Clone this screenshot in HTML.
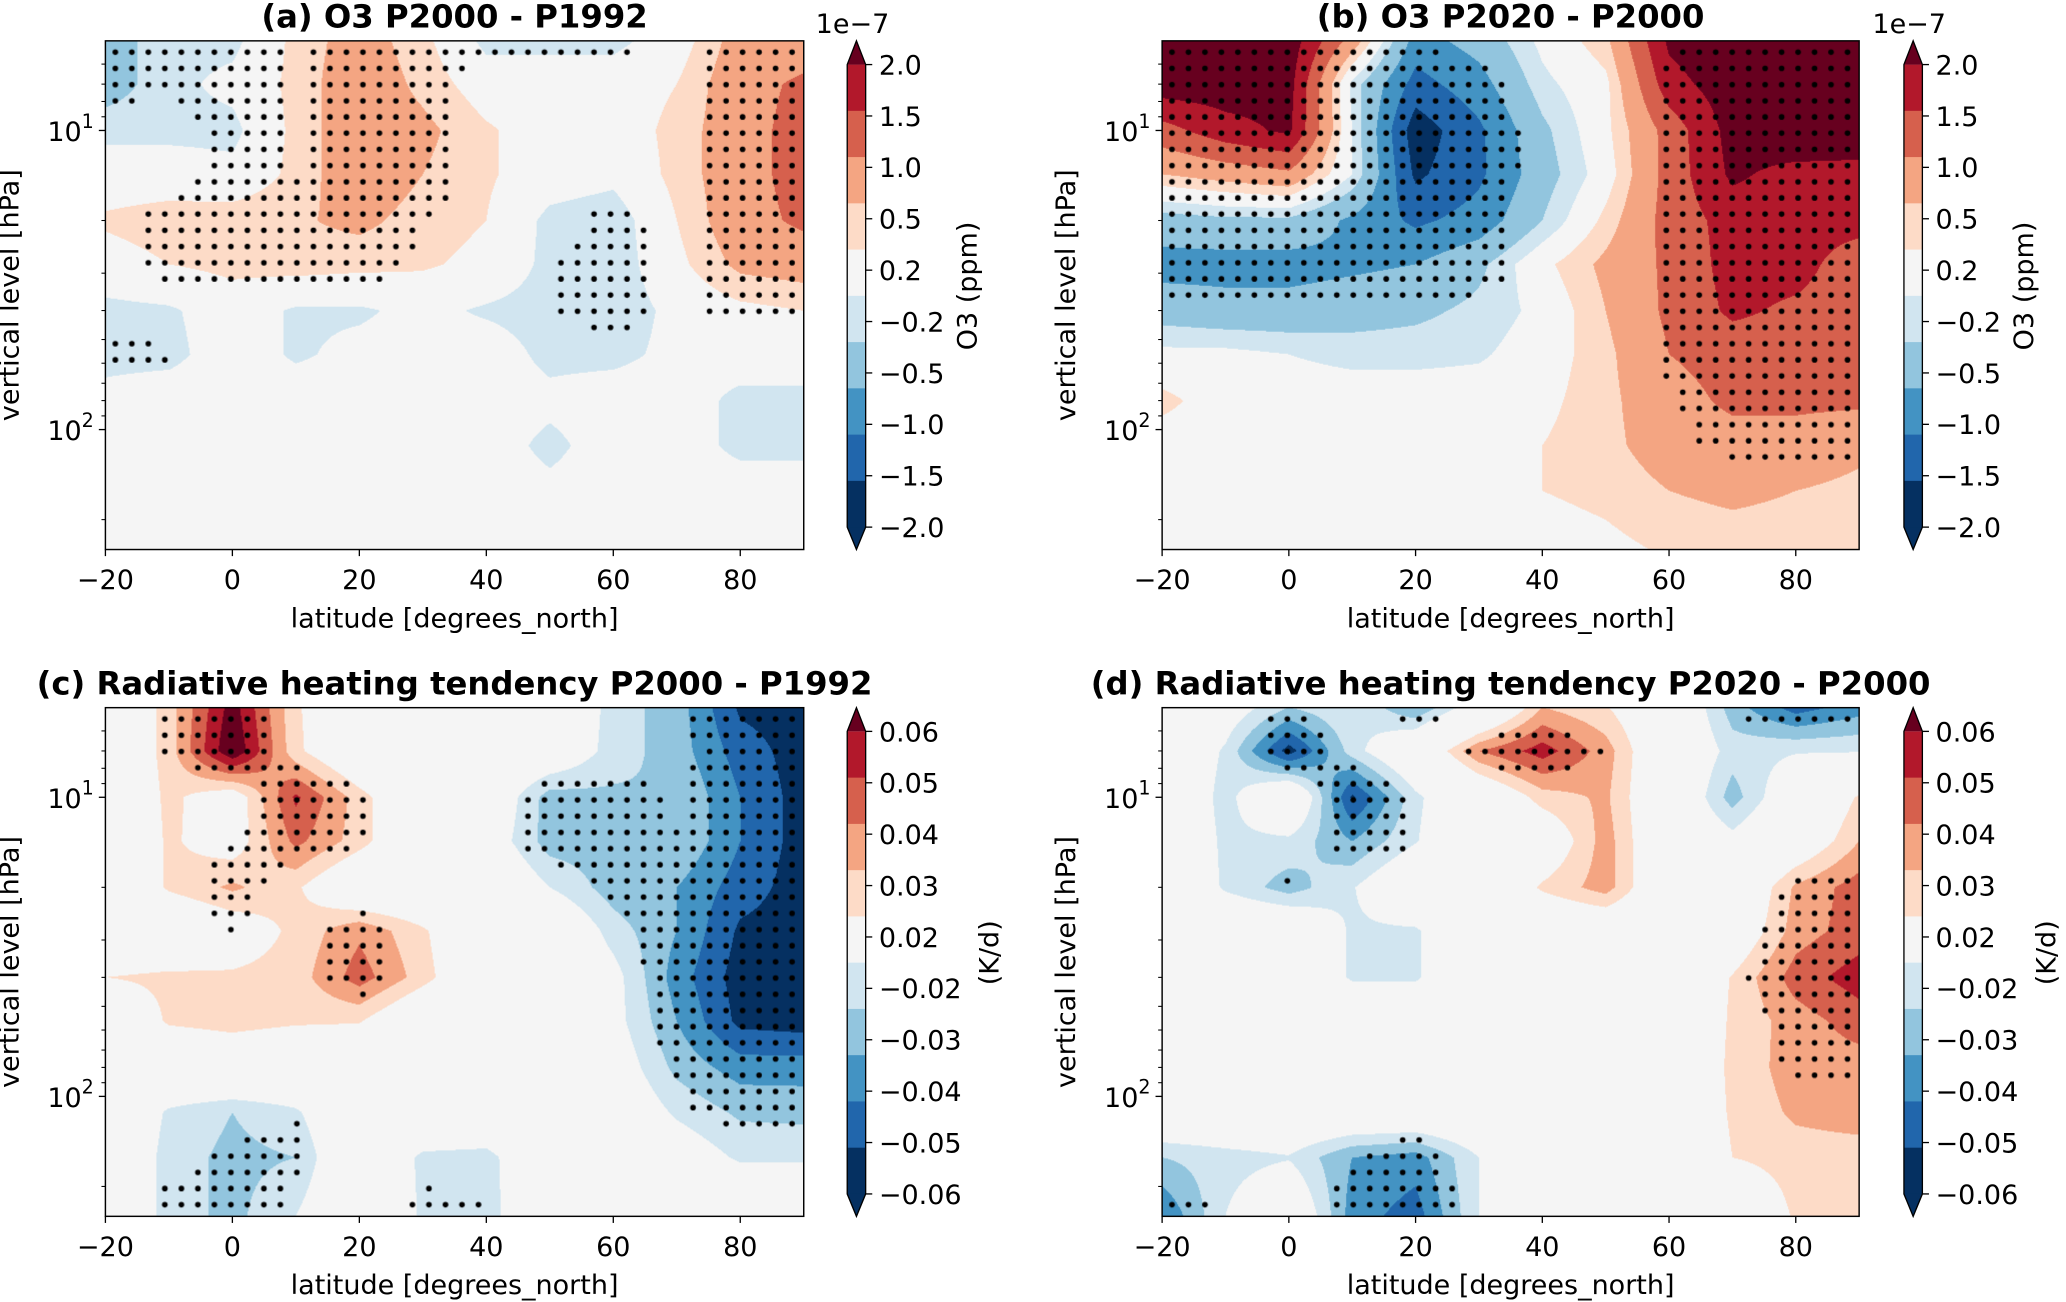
<!DOCTYPE html>
<html><head><meta charset="utf-8">
<style>
html,body{margin:0;padding:0;background:#fff;}
body{width:2066px;height:1302px;overflow:hidden;position:relative;font-family:"Liberation Sans","DejaVu Sans",sans-serif;}
#stage{position:absolute;left:0;top:0;width:1568px;height:988px;transform:scale(1.31760,1.31781);transform-origin:0 0;}
canvas{position:absolute;}
svg{position:absolute;left:0;top:0;}
</style></head>
<body>
<div id="stage">
<canvas id="cA" style="left:80px;top:31px;width:530px;height:386px" width="698" height="509"></canvas>
<canvas id="cB" style="left:882px;top:31px;width:529px;height:386px" width="697" height="509"></canvas>
<canvas id="cC" style="left:80px;top:537px;width:530px;height:386px" width="698" height="509"></canvas>
<canvas id="cD" style="left:882px;top:537px;width:529px;height:386px" width="697" height="509"></canvas>
<svg id="ov" width="1568" height="988" viewBox="0 0 1568 988"></svg>
</div>
<script>
// ---------------- data ----------------
const latitudes = [-20,-10,0,10,20,30,40,50,60,70,80,90];
const pressureLevels = [5,7,10,14,20,28,40,56,80,113,160,250];
const levelsO3 = [-2,-1.5,-1,-0.5,-0.2,0.2,0.5,1,1.5,2];
const levelsHR = [-0.06,-0.05,-0.04,-0.03,-0.02,0.02,0.03,0.04,0.05,0.06];
const cbarLabelsO3 = ["2.0","1.5","1.0","0.5","0.2","\u22120.2","\u22120.5","\u22121.0","\u22121.5","\u22122.0"];
const cbarLabelsHR = ["0.06","0.05","0.04","0.03","0.02","\u22120.02","\u22120.03","\u22120.04","\u22120.05","\u22120.06"];
const xTickLabels = [-20,0,20,40,60,80];

// panel (a) O3 P2000-P1992 (1e-7 ppm)
const fieldA = [
[-0.7,-0.3,-0.3,0.3,0.7,0.3,-0.3,-0.3,-0.3,0,0.7,0.7],
[-0.7,-0.3,-0.1,0.3,0.8,0.4,0,0,0,0.2,0.8,1.1],
[-0.3,-0.3,-0.3,0.3,0.8,0.6,0.25,0,0,0.3,0.8,1.2],
[0,0,-0.1,0.3,0.8,0.5,0.25,0,-0.1,0.3,0.8,1.2],
[0.25,0.35,0.4,0.45,0.6,0.35,0.2,-0.3,-0.4,0.2,0.8,1.1],
[0.05,0.2,0.3,0.35,0.3,0.25,0.1,-0.3,-0.4,0.1,0.6,0.7],
[-0.3,-0.25,0,-0.25,-0.25,-0.1,-0.25,-0.35,-0.4,-0.1,0.1,0.2],
[-0.3,-0.3,0,-0.25,-0.1,-0.05,0,-0.3,-0.3,-0.1,0,0],
[-0.1,0,0,0,0,0,0,-0.1,0,0,-0.3,-0.3],
[0,0,0,0,0,0,0,-0.3,0,0,-0.3,-0.3],
[0,0,0,0,0,0,0,-0.1,0,0,0,0],
[0,0,0,0,0,0,0,0,0,0,0,0]];
const sigA = [
[1,0.6,1,0.4,1,1,1,1,1,0,1,1],
[1,0.6,1,0.4,1,1,0,0,0,0,1,1],
[0,0,1,0.45,1,1,0,0,0,0,1,1],
[0,0,1,0.45,1,1,0,0,0,0,1,1],
[0,1,1,1,1,0.6,0,0,1,0,1,1],
[0,1,1,1,1,0.3,0,0.5,1,0.3,1,1],
[0,0,0,0,0,0,0,0.5,1,0.3,0.8,0.8],
[0.9,0.6,0,0,0,0,0,0,0,0,0,0],
[0,0,0,0,0,0,0,0,0,0,0,0],
[0,0,0,0,0,0,0,0,0,0,0,0],
[0,0,0,0,0,0,0,0,0,0,0,0],
[0,0,0,0,0,0,0,0,0,0,0,0]];

// panel (b) O3 P2020-P2000
const fieldB = [
[2.5,2.5,2.3,0.8,-1.2,-0.8,-0.1,0.4,2.1,2.5,2.5,2.5],
[2.3,2.3,2.2,-0.3,-1.7,-1.2,-0.3,0.1,1.8,2.3,2.5,2.5],
[1.3,1.8,2.1,-0.2,-2.3,-1.6,-0.6,0.1,1.2,2.2,2.5,2.4],
[0.5,0.7,0.9,-0.2,-2.1,-1.6,-0.7,0,1.2,2.1,1.8,1.8],
[-0.7,-0.6,-0.6,-1.1,-1.6,-1.3,-0.5,0.3,1.2,1.7,1.7,1.7],
[-1.2,-1.2,-1.2,-1.1,-1.0,-0.6,0.1,0.6,1.1,1.7,1.7,1.2],
[-0.7,-0.8,-0.8,-0.7,-0.6,-0.4,-0.1,0.5,1.1,1.6,1.4,1.2],
[-0.1,-0.1,-0.2,-0.3,-0.3,-0.25,0,0.4,1.0,1.2,1.2,1.2],
[0.3,0,0,0,0,0,0.1,0.4,0.8,1.1,1.1,1.1],
[0,0,0,0,0,0,0.2,0.4,0.7,0.8,0.8,0.6],
[0,0,0,0,0,0,0.2,0.3,0.5,0.6,0.5,0.4],
[0,0,0,0,0,0,0,0.1,0.25,0.3,0.3,0.25]];
const sigB = [
[1,1,1,1,0.6,0,0,0,0.4,1,1,1],
[1,1,1,1,1,1,0,0,0.6,1,1,1],
[1,1,1,1,1,1,0.2,0,0.6,1,1,1],
[1,1,1,1,1,1,0.2,0,0.6,1,1,1],
[1,1,1,1,1,1,0,0,0.6,1,1,1],
[1,1,1,1,1,1,0,0,0.6,1,1,1],
[0.4,0.4,0.4,0.4,0.4,0.3,0,0,0.6,1,1,1],
[0,0,0,0,0,0,0,0,0.6,1,1,1],
[0,0,0,0,0,0,0,0,0.5,1,1,1],
[0,0,0,0,0,0,0,0,0.2,0.8,0.8,0.8],
[0,0,0,0,0,0,0,0,0,0,0,0],
[0,0,0,0,0,0,0,0,0,0,0,0]];

// panel (c) radiative heating P2000-P1992 (K/d)
const fieldC = [
[0,0.025,0.065,0.022,0,0,0,0,-0.025,-0.035,-0.062,-0.065],
[0,0.025,0.07,0.023,0,0,0,-0.005,-0.025,-0.035,-0.055,-0.065],
[0,0.023,0.01,0.052,0.025,0,-0.005,-0.035,-0.032,-0.03,-0.05,-0.065],
[0,0.022,0.012,0.043,0.025,0,-0.01,-0.035,-0.035,-0.03,-0.05,-0.065],
[0,0.022,0.032,0.022,0,0,0,-0.02,-0.035,-0.04,-0.055,-0.065],
[0,0,0.01,0.023,0.038,0.022,0,0,-0.025,-0.04,-0.062,-0.065],
[0.02,0.023,0.022,0.025,0.045,0.025,0,0,-0.015,-0.045,-0.065,-0.065],
[0,0.022,0.025,0.022,0.021,0,0,0,-0.015,-0.04,-0.063,-0.065],
[0,0,0.005,0,0,0,0,0,-0.01,-0.033,-0.045,-0.045],
[0,-0.022,-0.03,-0.022,0,0,0,0,-0.005,-0.022,-0.032,-0.033],
[0,-0.025,-0.033,-0.03,0,-0.023,-0.025,0,0,-0.01,-0.022,-0.022],
[0,-0.025,-0.033,-0.02,0,-0.022,-0.026,0,0,0,0,0]];
const sigC = [
[0,0.6,1,0.3,0,0,0,0,0,0.5,1,1],
[0,0.6,1,0.3,0,0,0,0,0,0.3,1,1],
[0,0,0,1,0.6,0,0,1,1,0.4,1,1],
[0,0,0.6,1,0.6,0,0,1,1,0.6,1,1],
[0,0,1,0,0,0,0,0,0.7,1,1,1],
[0,0,0.6,0,1,0,0,0,0.3,1,1,1],
[0,0,0,0,1,0,0,0,0,1,1,1],
[0,0,0,0,0,0,0,0,0,1,1,1],
[0,0,0,0,0,0,0,0,0,0.6,1,1],
[0,0,0.3,0.5,0,0,0,0,0,0.3,1,1],
[0,0.3,0.6,0.6,0,0,0,0,0,0,0,0],
[0,0.8,0.8,0.4,0,1,0.6,0,0,0,0,0]];

// panel (d) radiative heating P2020-P2000
const fieldD = [
[0,-0.01,-0.03,-0.02,-0.04,-0.01,0.03,0.021,0,-0.035,-0.055,-0.045],
[0,-0.022,-0.065,-0.025,0,0.04,0.055,0.035,0,-0.025,-0.021,-0.021],
[0,-0.025,0.005,-0.062,-0.023,0,0.025,0.032,0,-0.035,-0.005,0.022],
[0,-0.023,-0.023,-0.04,-0.021,0,0.005,0.035,0,-0.015,0.005,0.03],
[0,-0.022,-0.035,-0.021,0,0,0.022,0.035,0,0,0.032,0.045],
[0,0,0,-0.022,-0.022,0,0,0.002,0,0.005,0.035,0.045],
[0,0,0,-0.022,-0.022,0,0,0,0,0.021,0.045,0.055],
[0,0,0,0,0,0,0,0,0,0.022,0.035,0.045],
[0,0,0,0,0,0,0,0,0,0.023,0.035,0.035],
[0,0,0,0,0,0,0,0,0,0.022,0.032,0.035],
[-0.03,-0.025,-0.021,-0.04,-0.045,-0.02,0,0,0,0.02,0.025,0.025],
[-0.05,-0.02,0,-0.045,-0.055,-0.02,0,0,0,0,0.022,0.021]];
const sigD = [
[0,0,0.6,0,1,0,0,0,0,0.6,1,1],
[0,0,1,0.3,0,0.7,1,0.5,0,0,0,0],
[0,0,0,1,0.5,0,0,0,0,0.3,0,0],
[0,0,0,1,0.5,0,0,0,0,0,0,0],
[0,0,0.6,0,0,0,0,0,0,0,0.6,1],
[0,0,0,0,0,0,0,0,0,0,1,1],
[0,0,0,0,0,0,0,0,0,0.4,1,1],
[0,0,0,0,0,0,0,0,0,0,1,1],
[0,0,0,0,0,0,0,0,0,0,0.7,0.7],
[0,0,0,0,0,0,0,0,0,0,0,0],
[0,0,0,0.5,1,0,0,0,0,0,0,0],
[0.8,0.6,0,1,1,0.3,0,0,0,0,0,0]];

const cmap = ["#053061","#2166ac","#4393c3","#92c5de","#d1e5f0","#f5f5f5","#fddbc7","#f4a582","#d6604d","#b2182b","#67001f"];

// ---------------- helpers ----------------
const LT=0.7004, LB=2.401;
const logP = pressureLevels.map(p=>Math.log10(p));
function interp(grid, lat, lp){
  let fx=(lat-latitudes[0])/(latitudes[1]-latitudes[0]);
  let i=Math.max(0,Math.min(latitudes.length-2,Math.floor(fx)));
  let tx=Math.max(0,Math.min(1,fx-i));
  let j=0; while(j<logP.length-2 && lp>logP[j+1]) j++;
  let ty=Math.max(0,Math.min(1,(lp-logP[j])/(logP[j+1]-logP[j])));
  const a=grid[j][i],b=grid[j][i+1],c=grid[j+1][i],d=grid[j+1][i+1];
  return (a*(1-tx)+b*tx)*(1-ty)+(c*(1-tx)+d*tx)*ty;
}
function hexRgb(h){return [parseInt(h.substr(1,2),16),parseInt(h.substr(3,2),16),parseInt(h.substr(5,2),16)];}
const rgb=cmap.map(hexRgb);
function drawField(id, field, sig, levels){
  const cv=document.getElementById(id), ctx=cv.getContext('2d');
  const W=cv.width,H=cv.height, img=ctx.createImageData(W,H);
  for(let y=0;y<H;y++){
    const lp=LT+(y+0.5)/H*(LB-LT);
    for(let x=0;x<W;x++){
      const lat=-20+(x+0.5)/W*110;
      const v=interp(field,lat,lp);
      let k=0; while(k<levels.length && v>=levels[k]) k++;
      const c=rgb[k], o=(y*W+x)*4;
      img.data[o]=c[0];img.data[o+1]=c[1];img.data[o+2]=c[2];img.data[o+3]=255;
    }
  }
  ctx.putImageData(img,0,0);
  const sx=W/110*2.6, sy=16.2;
  ctx.fillStyle="#000";
  for(let y=sy*0.7;y<H;y+=sy){
    for(let x=sx*0.6;x<W;x+=sx){
      const lat=-20+x/W*110, lp=LT+y/H*(LB-LT);
      if(interp(sig,lat,lp)>=0.5){ctx.beginPath();ctx.arc(x,y,2.8,0,Math.PI*2);ctx.fill();}
    }
  }
}
drawField('cA',fieldA,sigA,levelsO3);
drawField('cB',fieldB,sigB,levelsO3);
drawField('cC',fieldC,sigC,levelsHR);
drawField('cD',fieldD,sigD,levelsHR);

// ---------------- axes overlay ----------------
const svg=document.getElementById('ov');
const NS="http://www.w3.org/2000/svg";
const FF="'DejaVu Sans','Liberation Sans',sans-serif";
const FS="20.5";
function el(tag,attrs,parent,text){
  const e=document.createElementNS(NS,tag);
  for(const k in attrs) e.setAttribute(k,attrs[k]);
  if(text!==undefined) e.textContent=text;
  (parent||svg).appendChild(e); return e;
}
const panels=[
 {x0:80,x1:610,y0:31,y1:417,title:"(a) O3 P2000 - P1992",cb:643,cbl:cbarLabelsO3,cbt:"O3 (ppm)",exp:true,name:"panel-a",lo:84},
 {x0:882,x1:1411,y0:31,y1:417,title:"(b) O3 P2020 - P2000",cb:1445,cbl:cbarLabelsO3,cbt:"O3 (ppm)",exp:true,name:"panel-b",lo:84},
 {x0:80,x1:610,y0:537,y1:923,title:"(c) Radiative heating tendency P2000 - P1992",cb:643,cbl:cbarLabelsHR,cbt:"(K/d)",exp:false,name:"panel-c",lo:101},
 {x0:882,x1:1411,y0:537,y1:923,title:"(d) Radiative heating tendency P2020 - P2000",cb:1445,cbl:cbarLabelsHR,cbt:"(K/d)",exp:false,name:"panel-d",lo:101}];
panels.forEach(p=>{
  const g=el('g',{});
  
  
  const xs=lat=>p.x0+(lat+20)/110*(p.x1-p.x0);
  const ys=pr=>p.y0+(Math.log10(pr)-LT)/(LB-LT)*(p.y1-p.y0);
  const fr=el('rect',{x:p.x0,y:p.y0,width:p.x1-p.x0,height:p.y1-p.y0,fill:"none",stroke:"#000","stroke-width":1.1},g);
  
  
  const t=el('text',{x:(p.x0+p.x1)/2,y:p.y0-10,"text-anchor":"middle","font-size":"24.5","font-weight":"bold","font-family":FF},g,p.title);
  
  
  xTickLabels.forEach(v=>{
    const X=xs(v);
    el('line',{x1:X,x2:X,y1:p.y1,y2:p.y1+5,stroke:"#000","stroke-width":1},g);
    const tl=el('text',{x:X,y:p.y1+30,"text-anchor":"middle","font-size":FS,"font-family":FF},g,String(v).replace('-','\u2212'));
    
    
  });
  const xl=el('text',{x:(p.x0+p.x1)/2,y:p.y1+59,"text-anchor":"middle","font-size":FS,"font-family":FF},g,"latitude [degrees_north]");
  
  
  const ticks=[6,7,8,9,10,20,30,40,50,60,70,80,90,100,200];
  ticks.forEach(v=>{
    const Y=ys(v), major=(v===10||v===100);
    el('line',{x1:p.x0,x2:p.x0-(major?5:3),y1:Y,y2:Y,stroke:"#000","stroke-width":major?1:0.8},g);
    if(major){
      const tx=el('text',{x:p.x0-18,y:Y+8,"text-anchor":"end","font-size":FS,"font-family":FF},g,"10");
      
      
      el('text',{x:p.x0-18,y:Y-2,"text-anchor":"start","font-size":"14.5","font-family":FF},g,v===10?"1":"2");
    }
  });
  const yc=(p.y0+p.y1)/2, yx=p.x0-66;
  const yl=el('text',{x:yx,y:yc,"text-anchor":"middle","font-size":FS,"font-family":FF,transform:`rotate(-90 ${yx} ${yc})`},g,"vertical level [hPa]");
  
  
  // colorbar
  const cb=el('g',{},g);
  
  
  const top=p.y0+18, bot=p.y1-17, w=14, step=(bot-top)/10;
  for(let i=0;i<10;i++){
    el('rect',{x:p.cb,y:top+i*step,width:w,height:step+0.5,fill:cmap[9-i],stroke:"none"},cb);
  }
  el('polygon',{points:`${p.cb},${top} ${p.cb+w},${top} ${p.cb+w/2},${p.y0}`,fill:cmap[10]},cb);
  el('polygon',{points:`${p.cb},${bot} ${p.cb+w},${bot} ${p.cb+w/2},${p.y1}`,fill:cmap[0]},cb);
  el('polygon',{points:`${p.cb},${top} ${p.cb+w/2},${p.y0} ${p.cb+w},${top} ${p.cb+w},${bot} ${p.cb+w/2},${p.y1} ${p.cb},${bot}`,fill:"none",stroke:"#000","stroke-width":1},cb);
  p.cbl.forEach((lab,i)=>{
    const yv=top+i*((bot-top)/9);
    el('line',{x1:p.cb+w,x2:p.cb+w+5,y1:yv,y2:yv,stroke:"#000","stroke-width":1},cb);
    const tl=el('text',{x:p.cb+w+10,y:yv+7.5,"font-size":FS,"font-family":FF},cb,lab);
    
    
  });
  const lx=p.cb+w+p.lo, ly=(p.y0+p.y1)/2-7;
  const cl=el('text',{x:lx,y:ly,"text-anchor":"middle","font-size":FS,"font-family":FF,transform:`rotate(-90 ${lx} ${ly})`},cb,p.cbt);
  
  
  if(p.exp){
    const ex=el('text',{x:p.cb+w-10,y:p.y0-6,"font-size":FS,"text-anchor":"middle","font-family":FF},cb,"1e\u22127");
    
    
  }
});
</script>
</body></html>
